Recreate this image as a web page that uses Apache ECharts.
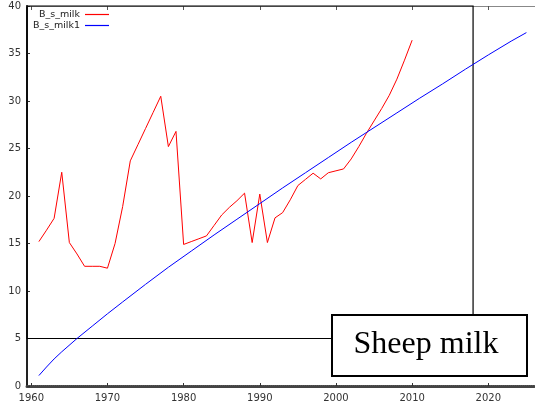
<!DOCTYPE html>
<html>
<head>
<meta charset="utf-8">
<script src="https://cdn.jsdelivr.net/npm/echarts@6/dist/echarts.min.js"></script>
<style>html,body{margin:0;padding:0;background:#fff}#c{width:535px;height:410px}</style>
</head>
<body>
<div id="c"></div>
<script>
const milkYears = [1961,1962,1963,1964,1965,1966,1967,1968,1969,1970,1971,1972,1973,1974,1975,1976,1977,1978,1979,1980,1981,1982,1983,1984,1985,1986,1987,1988,1989,1990,1991,1992,1993,1994,1995,1996,1997,1998,1999,2000,2001,2002,2003,2004,2005,2006,2007,2008,2009,2010];
const milkValues = [15.2,16.4,17.65,22.5,15.1,13.9,12.6,12.6,12.6,12.4,15.0,18.9,23.7,25.4,27.1,28.8,30.5,25.2,26.8,14.9,15.2,15.5,15.8,16.9,18.0,18.8,19.5,20.3,15.1,20.2,15.1,17.7,18.25,19.6,21.1,21.75,22.4,21.8,22.45,22.65,22.85,23.9,25.2,26.6,27.9,29.2,30.6,32.3,34.3,36.4];
const fitYears = [1961,1962,1963,1964,1966,1968,1970,1972,1975,1978,1981,1984,1987,1990,1993,1996,1999,2002,2005,2008,2011,2014,2017,2020,2023,2025];
const fitValues = [1.1,2.0,2.85,3.6,5.0,6.3,7.6,8.85,10.7,12.5,14.2,15.9,17.55,19.2,20.85,22.45,24.05,25.65,27.2,28.75,30.3,31.8,33.35,34.85,36.3,37.2];
const xTickLabels = [1960,1970,1980,1990,2000,2010,2020];
const boxX = [1959.44, 2018];
const boxY = [5, 40];
const seriesNames = ['B_s_milk','B_s_milk1'];
const titleText = 'Sheep milk';

const font = 'DejaVu Sans, Verdana, sans-serif';
const chart = echarts.init(document.getElementById('c'));
chart.setOption({
  animation: false,
  backgroundColor: '#fff',
  grid: {left: 27, right: 0, top: 6, bottom: 24, containLabel: false},
  xAxis: [{
    type: 'value', min: 1959.44, max: 2026.13,
    axisLine: {show: true, lineStyle: {color: '#444', width: 3, type: [1,1]}},
    axisTick: {show: true, inside: true, length: 3, customValues: xTickLabels, lineStyle: {color: '#333'}},
    axisLabel: {customValues: xTickLabels, color: '#333', fontFamily: font, fontSize: 10, margin: 7, formatter: v => String(v)},
    splitLine: {show: false}
  }, {
    type: 'value', position: 'top', min: 1959.44, max: 2026.13,
    axisLine: {show: true, lineStyle: {color: '#888', width: 1}},
    axisTick: {show: true, inside: true, length: 4, customValues: xTickLabels, lineStyle: {color: '#555'}},
    axisLabel: {show: false},
    splitLine: {show: false}
  }],
  yAxis: {
    type: 'value', min: 0, max: 40, interval: 5,
    axisLine: {show: true, lineStyle: {color: '#222', width: 2}},
    axisTick: {show: true, inside: true, length: 3, lineStyle: {color: '#333'}},
    axisLabel: {color: '#333', fontFamily: font, fontSize: 10, margin: 6},
    splitLine: {show: false}
  },
  legend: [{
    data: [seriesNames[0]], right: 426, top: 9.5, align: 'right', icon: 'rect',
    itemWidth: 24, itemHeight: 1.2, itemGap: 0, padding: 0,
    textStyle: {fontFamily: font, fontSize: 9.5, color: '#222'}
  }, {
    data: [seriesNames[1]], right: 426, top: 20.5, align: 'right', icon: 'rect',
    itemWidth: 24, itemHeight: 1.2, itemGap: 0, padding: 0,
    textStyle: {fontFamily: font, fontSize: 9.5, color: '#222'}
  }],
  series: [{
    name: seriesNames[0], type: 'line', symbol: 'none',
    data: milkYears.map((y, i) => [y, milkValues[i]]),
    lineStyle: {color: '#ff0000', width: 1}, itemStyle: {color: '#ff0000'}
  }, {
    name: seriesNames[1], type: 'line', symbol: 'none', smooth: false,
    data: fitYears.map((y, i) => [y, fitValues[i]]),
    lineStyle: {color: '#0000ff', width: 1}, itemStyle: {color: '#0000ff'},
    markArea: {
      silent: true,
      itemStyle: {color: 'rgba(0,0,0,0)', borderColor: '#000', borderWidth: 1.2},
      label: {show: false},
      data: [[{coord: [boxX[0], boxY[0]]}, {coord: [boxX[1], boxY[1]]}]]
    },
    z: 3
  }],
  graphic: [{
    type: 'rect', z: 100, zlevel: 1,
    shape: {x: 332, y: 315, width: 195, height: 61},
    style: {fill: '#fff', stroke: '#000', lineWidth: 2}
  }, {
    type: 'text', z: 101, zlevel: 1, x: 426, y: 345,
    style: {text: titleText, font: '32px "Liberation Serif", "Times New Roman", serif', fill: '#000', align: 'center', verticalAlign: 'middle'}
  }]
});
</script>
</body>
</html>
